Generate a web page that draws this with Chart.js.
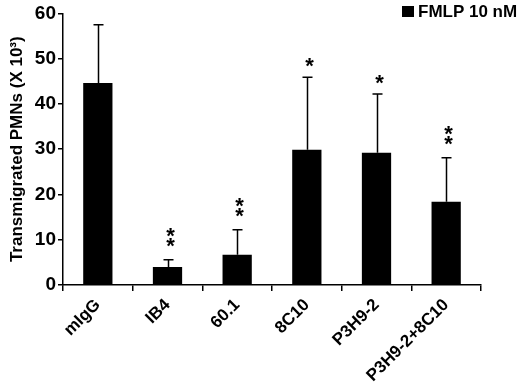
<!DOCTYPE html>
<html><head><meta charset="utf-8">
<script src="https://cdn.jsdelivr.net/npm/chart.js@4"></script>
<style>html,body{margin:0;padding:0;background:#fff}#wrap{width:520px;height:388px}</style>
</head><body><div id="wrap"><canvas id="c" width="520" height="388"></canvas></div>
<script>
const categories = ['mIgG', 'IB4', '60.1', '8C10', 'P3H9-2', 'P3H9-2+8C10'];
const means = [44.6, 4.0, 6.7, 29.9, 29.2, 18.4];
const sdUpper = [12.9, 1.6, 5.5, 16.0, 13.0, 9.7];
const significance = ['', '**', '**', '*', '*', '**'];
const yTicks = [0, 10, 20, 30, 40, 50, 60];
const seriesName = 'FMLP 10 nM';
const yTitle = 'Transmigrated PMNs (X 10\u00B3)';

const FONT = '"Liberation Sans", Arial, sans-serif';

const errorBars = {
  id: 'errorBars',
  afterDatasetsDraw(chart) {
    const ctx = chart.ctx;
    const meta = chart.getDatasetMeta(0);
    const ys = chart.scales.y;
    ctx.save();
    ctx.strokeStyle = '#000';
    ctx.fillStyle = '#000';
    ctx.lineWidth = 1.5;
    meta.data.forEach((el, i) => {
      const x = Math.round(el.x) + 0.5;
      const top = ys.getPixelForValue(means[i] + sdUpper[i]);
      ctx.beginPath();
      ctx.moveTo(x, el.y);
      ctx.lineTo(x, top);
      ctx.moveTo(x - 5, top);
      ctx.lineTo(x + 5, top);
      ctx.stroke();
      const s = significance[i];
      ctx.font = 'bold 22px ' + FONT;
      ctx.textAlign = 'center';
      ctx.textBaseline = 'alphabetic';
      const n = s.length;
      for (let k = 0; k < n; k++) {
        const yc = n === 1 ? top - 16 : top - 19 - 9.5 * k;
        ctx.fillText('*', x + 2, yc + 12);
      }
    });
    ctx.restore();
  }
};

const legendBox = {
  id: 'legendBox',
  afterDraw(chart) {
    const ctx = chart.ctx;
    ctx.save();
    ctx.fillStyle = '#000';
    ctx.fillRect(402, 6, 12, 11);
    ctx.font = 'bold 17px ' + FONT;
    ctx.textAlign = 'left';
    ctx.textBaseline = 'middle';
    ctx.fillText(seriesName, 418, 12);
    ctx.restore();
  }
};

new Chart(document.getElementById('c'), {
  type: 'bar',
  data: {
    labels: categories,
    datasets: [{
      label: seriesName,
      data: means,
      backgroundColor: '#000',
      borderWidth: 0,
      barPercentage: 0.42,
      categoryPercentage: 1.0
    }]
  },
  options: {
    responsive: false,
    animation: false,
    devicePixelRatio: 1,
    layout: { padding: { top: 9, right: 39, left: 0, bottom: 0 } },
    plugins: { legend: { display: false }, tooltip: { enabled: false } },
    scales: {
      x: {
        offset: true,
        grid: { display: true, drawOnChartArea: false, drawTicks: true, tickLength: 6, color: '#000', lineWidth: 1.5, offset: true },
        border: { display: true, color: '#000', width: 1.5 },
        ticks: { minRotation: 45, maxRotation: 45, color: '#000', font: { family: FONT, size: 17, weight: 'bold' }, padding: 4 },
        afterFit(s) { s.height = 103; }
      },
      y: {
        min: 0, max: 60,
        afterBuildTicks(s) { s.ticks = yTicks.map(v => ({ value: v })); },
        grid: { display: true, drawOnChartArea: false, drawTicks: true, tickLength: 5, color: '#000', lineWidth: 1.5 },
        border: { display: true, color: '#000', width: 1.5 },
        ticks: { color: '#000', font: { family: FONT, size: 19, weight: 'bold' }, padding: 2 },
        title: { display: true, text: yTitle, color: '#000', font: { family: FONT, size: 17, weight: 'bold' }, padding: { top: 7, bottom: 2 } },
        afterFit(s) { s.width = 63; }
      }
    }
  },
  plugins: [errorBars, legendBox]
});
</script>
</body></html>
